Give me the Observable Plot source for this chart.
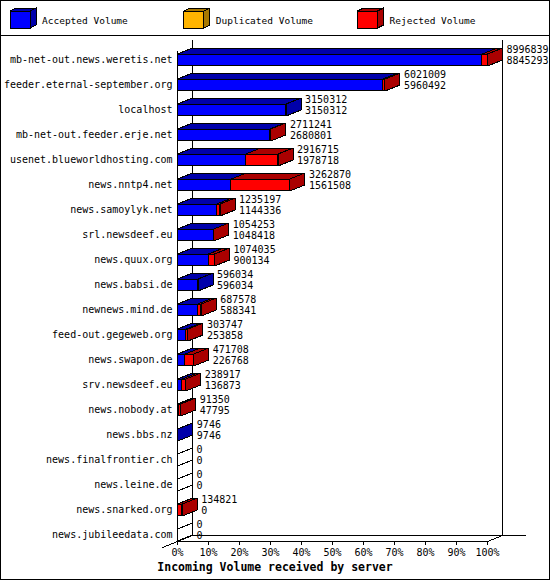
<!DOCTYPE html>
<html><head><meta charset="utf-8">
<script src="https://cdn.jsdelivr.net/npm/d3@7"></script>
<script src="https://cdn.jsdelivr.net/npm/@observablehq/plot@0.6"></script>
<style>
html,body{margin:0;padding:0;background:#fff;}
#wrap{position:relative;width:550px;height:580px;box-sizing:border-box;border:1px solid #000;background:#fff;font-family:"DejaVu Sans Mono",monospace;overflow:hidden;}
#legend{position:relative;height:34px;border-bottom:1px solid #000;}
#title{height:19px;line-height:19px;text-align:center;font-weight:bold;font-size:11.5px;color:#000;}
svg{display:block;}
#chart rect, #chart path, #chart line, #legend polygon, #legend rect{shape-rendering:crispEdges;}
</style></head><body>
<div id="wrap"><div id="legend"></div><div id="chart"></div><div id="title"></div></div>
<script>
const hosts = [
  "mb-net-out.news.weretis.net","feeder.eternal-september.org","localhost",
  "mb-net-out.feeder.erje.net","usenet.blueworldhosting.com","news.nntp4.net",
  "news.samoylyk.net","srl.newsdeef.eu","news.quux.org","news.babsi.de",
  "newnews.mind.de","feed-out.gegeweb.org","news.swapon.de","srv.newsdeef.eu",
  "news.nobody.at","news.bbs.nz","news.finalfrontier.ch","news.leine.de",
  "news.snarked.org","news.jubileedata.com"
];
const totalVolume = [8996839,6021009,3150312,2711241,2916715,3262870,1235197,1054253,1074035,596034,
  687578,303747,471708,238917,91350,9746,0,0,134821,0];
const acceptedVolume = [8845293,5960492,3150312,2680801,1978718,1561508,1144336,1048418,900134,596034,
  588341,253858,226768,136873,47795,9746,0,0,0,0];
const duplicatedVolume = [0,0,0,0,0,0,0,0,0,0,0,0,0,0,0,0,0,0,0,0];
const rejectedVolume = totalVolume.map((t,i)=>t-acceptedVolume[i]-duplicatedVolume[i]);
const seriesNames = ["Accepted Volume","Duplicated Volume","Rejected Volume"];
const tickPercents = [0,10,20,30,40,50,60,70,80,90,100];
const xTitle = "Incoming Volume received by server";

const faceColors = ["#0000ff","#ffb400","#ff0000"];
const darkColors = ["#0000aa","#a87800","#aa0000"];
const seriesValues = [acceptedVolume, duplicatedVolume, rejectedVolume];

// legend
const lg = d3.select("#legend").append("svg").attr("width",548).attr("height",34)
  .style("position","absolute").style("left","0px").style("top","0px");
seriesNames.forEach((name,k)=>{
  const x = 9 + k*173.8, yt = 10, w = 20, h = 17, dx = 6, dy = 3;
  lg.append("polygon").attr("points",`${x},${yt} ${x+w},${yt} ${x+w+dx},${yt-dy} ${x+dx},${yt-dy}`)
    .attr("fill",darkColors[k]).attr("stroke","#000");
  lg.append("polygon").attr("points",`${x+w},${yt} ${x+w+dx},${yt-dy} ${x+w+dx},${yt+h-dy} ${x+w},${yt+h}`)
    .attr("fill",darkColors[k]).attr("stroke","#000");
  lg.append("rect").attr("x",x).attr("y",yt).attr("width",w).attr("height",h)
    .attr("fill",faceColors[k]).attr("stroke","#000");
  lg.append("text").attr("x",x+32).attr("y",19).attr("dominant-baseline","central")
    .attr("font-family","DejaVu Sans Mono").attr("font-size","9.5px").attr("fill","#000").text(name);
});
d3.select("#title").text(xTitle);

// geometry
const maxTotal = d3.max(totalVolume);
const X0 = 176, X1 = 486, STEP = 25, TOP = 11;
const n = hosts.length;
const PX = maxTotal/(X1-X0), PY = 1/STEP;
const DX = 15*PX, DY = 6*PY, H = 6*PY;
const floorFront = (n-1) + 6.5*PY;
const floorBack = floorFront - DY;
const wallTop = -0.5 - 7*PY;
const axisTop = -0.5 + 4*PY;

const fronts=[], tops=[], sides=[];
hosts.forEach((h,i)=>{
  let x0 = 0, last = -1;
  seriesValues.forEach((vals,k)=>{
    const v = vals[i]; if (!(v>0)) return;
    const x1 = x0 + v;
    fronts.push({x1:x0,x2:x1,y1:i-H,y2:i+H,c:faceColors[k]});
    const id = `t${i}-${k}`;
    [[x0,i-H],[x1,i-H],[x1+DX,i-H-DY],[x0+DX,i-H-DY],[x0,i-H]].forEach(([x,y])=>tops.push({id,x,y,c:darkColors[k]}));
    x0 = x1; last = k;
  });
  const c = last>=0 ? darkColors[last] : "#ffffff";
  [[x0,i-H],[x0+DX,i-H-DY],[x0+DX,i+H-DY],[x0,i+H],[x0,i-H]].forEach(([x,y])=>sides.push({id:`s${i}`,x,y,c}));
});

const chart = Plot.plot({
  width: 548, height: 522,
  marginLeft: X0, marginRight: 548-X1, marginTop: 0, marginBottom: 17,
  x: {domain:[0,maxTotal], range:[X0,X1], axis:null},
  y: {domain:[-0.5,n-0.5], range:[TOP,TOP+n*STEP], axis:null},
  color: {type:"identity"},
  style: {fontFamily:"DejaVu Sans Mono", fontSize:"10px", background:"#fff", color:"#000", overflow:"visible"},
  marks: [
    Plot.ruleX([DX, maxTotal+DX], {x:d=>d, y1:wallTop, y2:floorBack, stroke:"#000"}),
    Plot.ruleY([floorBack], {y:d=>d, x1:DX, x2:maxTotal+DX+24*PX, stroke:"#000"}),
    Plot.ruleX([0], {x:d=>d, y1:axisTop, y2:floorFront, stroke:"#000"}),
    Plot.line([{x:DX,y:floorBack},{x:-DX,y:floorFront+DY}], {x:"x", y:"y", stroke:"#000", strokeWidth:1}),
    Plot.line([{x:0,y:floorFront},{x:maxTotal,y:floorFront},{x:maxTotal+DX,y:floorBack}], {x:"x", y:"y", stroke:"#000", strokeWidth:1}),
    Plot.ruleX(tickPercents, {x:p=>p/100*maxTotal, y1:floorFront, y2:floorFront+4*PY, stroke:"#000"}),
    Plot.text(tickPercents, {x:p=>p/100*maxTotal, y:floorFront, dy:11, text:p=>`${p}%`, fill:"#000", fontSize:10}),
    Plot.rect(fronts, {x1:"x1", x2:"x2", y1:"y1", y2:"y2", fill:"c", stroke:"#000", strokeWidth:1}),
    Plot.line(tops, {x:"x", y:"y", z:"id", fill:"c", stroke:"#000", strokeWidth:1, strokeLinejoin:"miter"}),
    Plot.line(sides, {x:"x", y:"y", z:"id", fill:"c", stroke:"#000", strokeWidth:1, strokeLinejoin:"miter"}),
    Plot.text(hosts, {x:0, y:(d,i)=>i, dx:-5, textAnchor:"end", text:d=>d, fill:"#000", fontSize:10}),
    Plot.text(totalVolume, {x:d=>d, y:(d,i)=>i, dx:19, dy:-10, textAnchor:"start", text:d=>String(d), fill:"#000", fontSize:10}),
    Plot.text(acceptedVolume, {x:(d,i)=>totalVolume[i], y:(d,i)=>i, dx:19, dy:1, textAnchor:"start", text:d=>String(d), fill:"#000", fontSize:10})
  ]
});
document.getElementById("chart").appendChild(chart);
</script>
</body></html>
